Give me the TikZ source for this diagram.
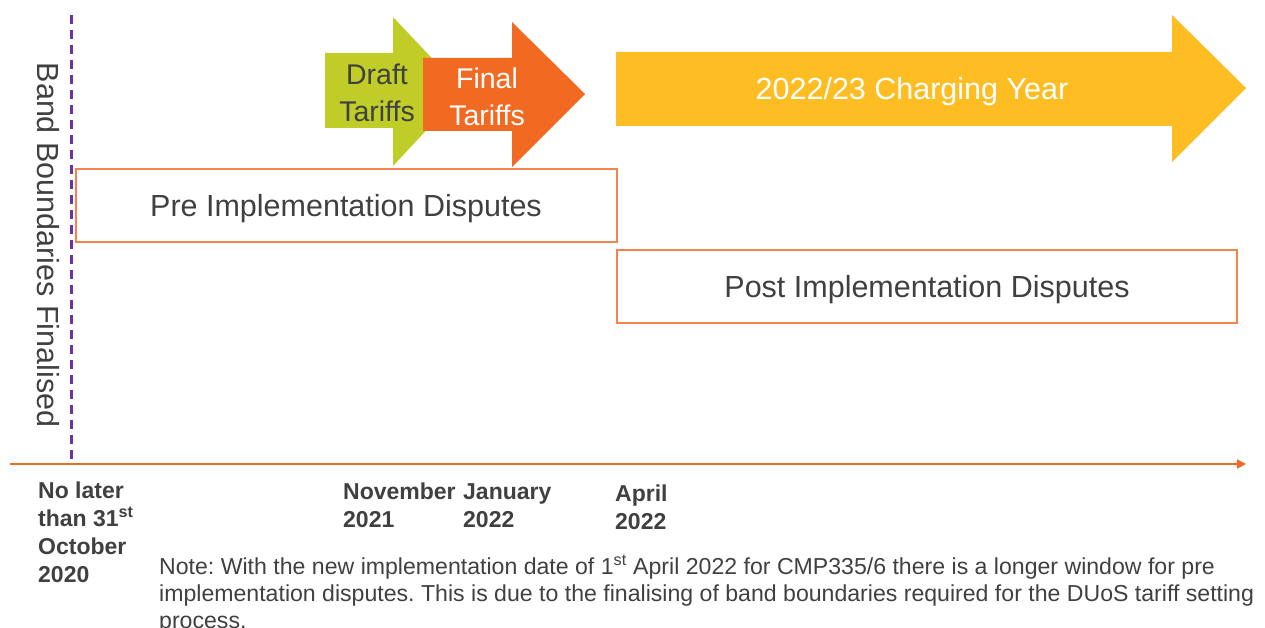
\documentclass[tikz,border=0pt]{standalone}
\usepackage{fontspec}
\setmainfont{Liberation Sans}
\usetikzlibrary{arrows.meta}

\definecolor{draftgreen}{HTML}{C0CD28}
\definecolor{finalorange}{HTML}{F26A22}
\definecolor{yearyellow}{HTML}{FDBD23}
\definecolor{boxline}{HTML}{F4844D}
\definecolor{bandpurple}{HTML}{7030A0}
\definecolor{txtgray}{HTML}{404040}

\begin{document}
\begin{tikzpicture}
  [x=1pt,y=-1pt,
   every node/.style={text=txtgray,inner sep=0pt},
   bigtext/.style={font=\fontsize{30.5}{37}\selectfont},
   arrowtext/.style={font=\fontsize{28.5}{37}\selectfont,align=center},
   datetext/.style={font=\fontsize{23}{28}\selectfont\bfseries,align=left,anchor=north west},
   dispbox/.style={draw=boxline,line width=1.3pt}]
  \useasboundingbox (0,0) rectangle (1265,628);
  \clip (0,0) rectangle (1265,628);

  % tariff arrows
  \fill[draftgreen] (325,53) -- (393,53) -- (393,17) -- (463,91) -- (393,166) -- (393,128) -- (325,128) -- cycle;
  \fill[finalorange] (423,58) -- (512,58) -- (512,22) -- (585,94) -- (512,167) -- (512,131) -- (423,131) -- cycle;
  \fill[yearyellow] (616,52) -- (1172,52) -- (1172,15) -- (1246,88) -- (1172,162) -- (1172,126) -- (616,126) -- cycle;
  \node[arrowtext] (draft) at (377,93) {Draft\\Tariffs};
  \node[arrowtext,text=white] (final) at (487,97) {Final\\Tariffs};
  \node[bigtext,text=white] (year) at (912,92) {2022/23 Charging Year};

  % dispute windows
  \draw[dispbox] (76,169) rectangle (617,242);
  \draw[dispbox] (617,250) rectangle (1237,323);
  \node[bigtext] (pre) at (346,209) {Pre Implementation Disputes};
  \node[bigtext] (post) at (927,290) {Post Implementation Disputes};

  % band boundaries
  \coordinate (bandtop) at (71,15);
  \coordinate (bandbot) at (71,462);
  \draw[bandpurple,line width=3pt,dash pattern=on 9pt off 6pt] (bandtop) -- (bandbot);
  \node[bigtext,rotate=-90] (band) at (48,245) {Band Boundaries Finalised};

  % time axis
  \coordinate (axstart) at (10,464);
  \coordinate (axend) at (1246,464);
  \draw[finalorange,line width=2.4pt,-{Triangle[length=9pt,width=9pt]}] (axstart) -- (axend);

  \node[datetext] (oct) at (38,482) {No later\\than 31\textsuperscript{st}\\October\\2020};
  \node[datetext] (nov) at (343,483) {November\\2021};
  \node[datetext] (jan) at (463,483) {January\\2022};
  \node[datetext] (apr) at (615,485) {April\\2022};

  \node[font=\fontsize{23.1}{27}\selectfont\frenchspacing,align=left,anchor=north west] (note) at (159,555)
    {Note: With the new implementation date of 1\textsuperscript{st} April 2022 for CMP335/6 there is a longer window for pre\\
     implementation disputes. This is due to the finalising of band boundaries required for the DUoS tariff setting\\
     process.};
\end{tikzpicture}
\end{document}
